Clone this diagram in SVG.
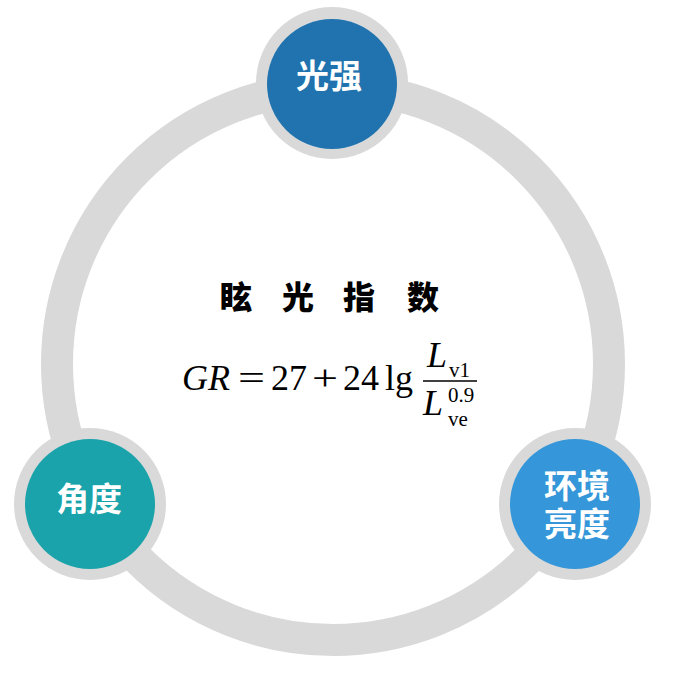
<svg xmlns="http://www.w3.org/2000/svg" width="678" height="682" viewBox="0 0 678 682">
<style>
.ring{fill:none;stroke:#d9d9d9;stroke-width:32}
.halo{fill:#d9d9d9}
.lbl{font-family:"Noto Sans CJK SC","Noto Sans",sans-serif;font-weight:700;font-size:33px;fill:#ffffff;text-anchor:middle}
.title{font-family:"Noto Sans CJK SC","Noto Sans",sans-serif;font-weight:900;font-size:32px;fill:#000000;text-anchor:middle}
.m{font-family:"Liberation Serif","Times New Roman",serif;font-size:36px;fill:#000000}
.mi{font-style:italic}
.s{font-family:"Liberation Serif","Times New Roman",serif;font-size:21px;fill:#000000}
</style>
<rect width="678" height="682" fill="#ffffff"/>
<g id="connectors">
<circle class="ring" cx="333" cy="364" r="276"/>
</g>
<g id="node-guangqiang">
<circle class="halo" cx="332" cy="83" r="76"/>
<circle cx="332" cy="84" r="65" fill="#2073ae"/>
<text class="lbl" x="329" y="88">光强</text>
</g>
<g id="node-jiaodu">
<circle class="halo" cx="90" cy="504" r="76"/>
<circle cx="90" cy="504" r="65" fill="#1aa3aa"/>
<text class="lbl" x="89" y="511">角度</text>
</g>
<g id="node-huanjing">
<circle class="halo" cx="575" cy="504" r="76"/>
<circle cx="575" cy="504" r="65" fill="#3597d9"/>
<text class="lbl" x="577" y="498"><tspan x="577" y="498">环境</tspan><tspan x="577" y="536">亮度</tspan></text>
</g>
<g id="center">
<text class="title" x="236" y="309">眩</text>
<text class="title" x="298" y="309">光</text>
<text class="title" x="359" y="309">指</text>
<text class="title" x="423" y="309">数</text>
<text class="m mi" x="182" y="390">GR</text>
<text class="m" x="238" y="390" textLength="27" lengthAdjust="spacingAndGlyphs">=</text>
<text class="m" x="271" y="390">27</text>
<text class="m" x="312" y="390" textLength="26" lengthAdjust="spacingAndGlyphs">+</text>
<text class="m" x="343" y="390">24</text>
<text class="m" x="385" y="390">lg</text>
<line x1="423" y1="381" x2="477" y2="381" stroke="#000" stroke-width="1.5"/>
<text class="m mi" x="427" y="367">L</text>
<text class="s" x="449" y="377">v1</text>
<text class="m mi" x="423" y="415">L</text>
<text class="s" x="448" y="402">0.9</text>
<text class="s" x="448" y="426">ve</text>
</g>
</svg>
